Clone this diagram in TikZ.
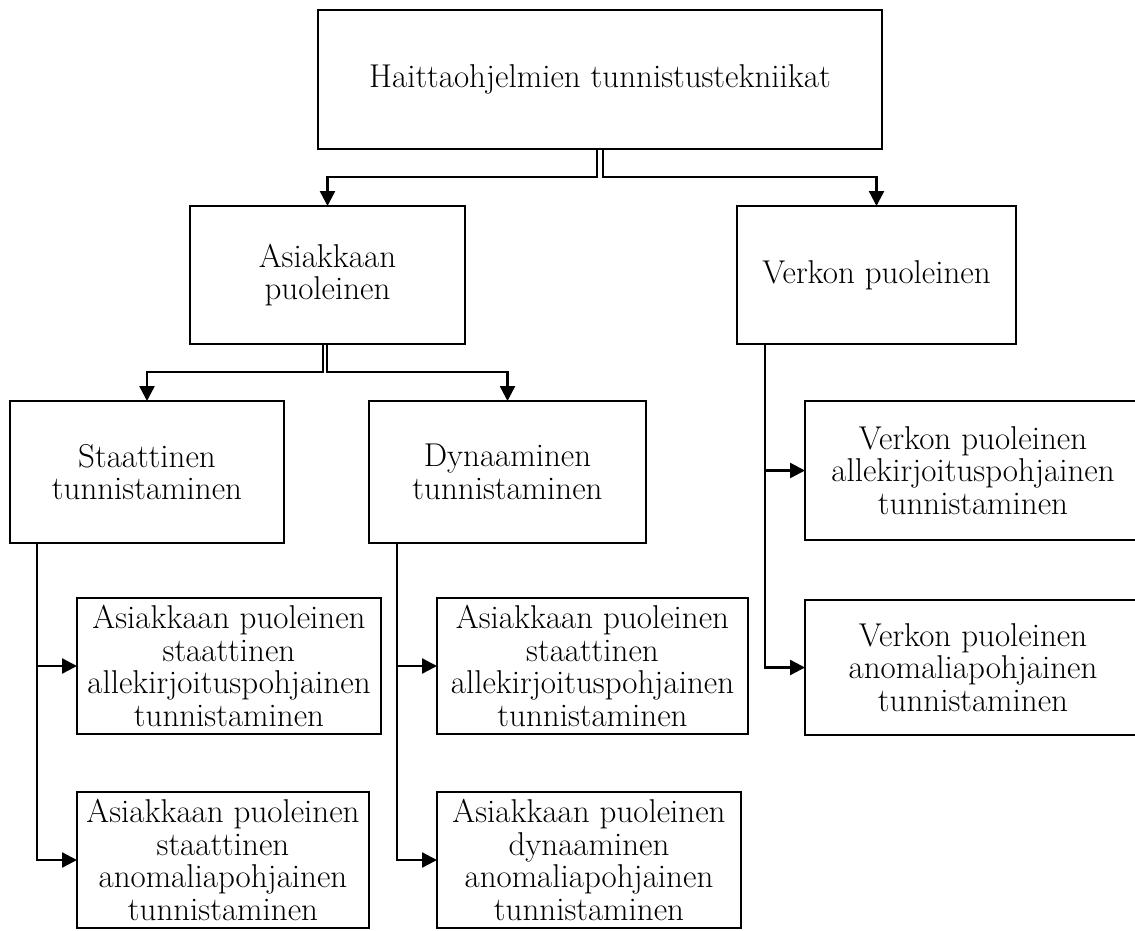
\documentclass[tikz,border=0pt]{standalone}
\usepackage{fontspec}
\usetikzlibrary{arrows.meta,calc}
\tikzset{
  box/.style={draw, line width=2.4pt, inner sep=0pt, outer sep=0pt, align=center,
    font=\fontsize{33}{32.5}\selectfont},
  arr/.style={line width=2.4pt, -{Triangle[length=15pt,width=15pt]}},
  ln/.style={line width=2.4pt}
}
\begin{document}
\begin{tikzpicture}[x=1pt,y=-1pt]
\useasboundingbox (0,0) rectangle (1135,930);
\node[box, minimum width=564pt, minimum height=139pt] (top) at (600,79.5) {Haittaohjelmien tunnistustekniikat};
\node[box, minimum width=275pt, minimum height=138pt] (asi) at (327.5,275) {Asiakkaan\\puoleinen};
\node[box, minimum width=279pt, minimum height=138pt] (verk) at (876.5,275) {Verkon puoleinen};
\node[box, minimum width=274pt, minimum height=142pt] (sta) at (147,472) {Staattinen\\tunnistaminen};
\node[box, minimum width=277pt, minimum height=142pt] (dyn) at (507.5,472) {Dynaaminen\\tunnistaminen};
\node[box, minimum width=304pt, minimum height=136pt] (s1) at (229,666) {Asiakkaan puoleinen\\staattinen\\allekirjoituspohjainen\\tunnistaminen};
\node[box, minimum width=292pt, minimum height=136pt] (s2) at (223,860) {Asiakkaan puoleinen\\staattinen\\anomaliapohjainen\\tunnistaminen};
\node[box, minimum width=311pt, minimum height=136pt] (d1) at (592.5,666) {Asiakkaan puoleinen\\staattinen\\allekirjoituspohjainen\\tunnistaminen};
\node[box, minimum width=304pt, minimum height=136pt] (d2) at (589,860) {Asiakkaan puoleinen\\dynaaminen\\anomaliapohjainen\\tunnistaminen};
\node[box, minimum width=336pt, minimum height=139pt] (v1) at (973,470.5) {Verkon puoleinen\\allekirjoituspohjainen\\tunnistaminen};
\node[box, minimum width=336pt, minimum height=135pt] (v2) at (973,667.5) {Verkon puoleinen\\anomaliapohjainen\\tunnistaminen};

\draw[arr] ([xshift=-3pt]top.south) -- ++(0,28) -| (asi.north);
\draw[arr] ([xshift=3pt]top.south) -- ++(0,28) -| (verk.north);
\draw[arr] ([xshift=-4.5pt]asi.south) -- ++(0,28) -| (sta.north);
\draw[arr] ([xshift=-0.5pt]asi.south) -- ++(0,28) -| (dyn.north);

\coordinate (sl) at ([xshift=27pt]sta.south west);
\draw[arr] (sl) |- (s2.west);
\draw[arr] (sl |- s1.west) -- (s1.west);
\coordinate (dl) at ([xshift=28pt]dyn.south west);
\draw[arr] (dl) |- (d2.west);
\draw[arr] (dl |- d1.west) -- (d1.west);
\coordinate (vl) at ([xshift=28pt]verk.south west);
\draw[arr] (vl) |- (v2.west);
\draw[arr] (vl |- v1.west) -- (v1.west);
\end{tikzpicture}
\end{document}
